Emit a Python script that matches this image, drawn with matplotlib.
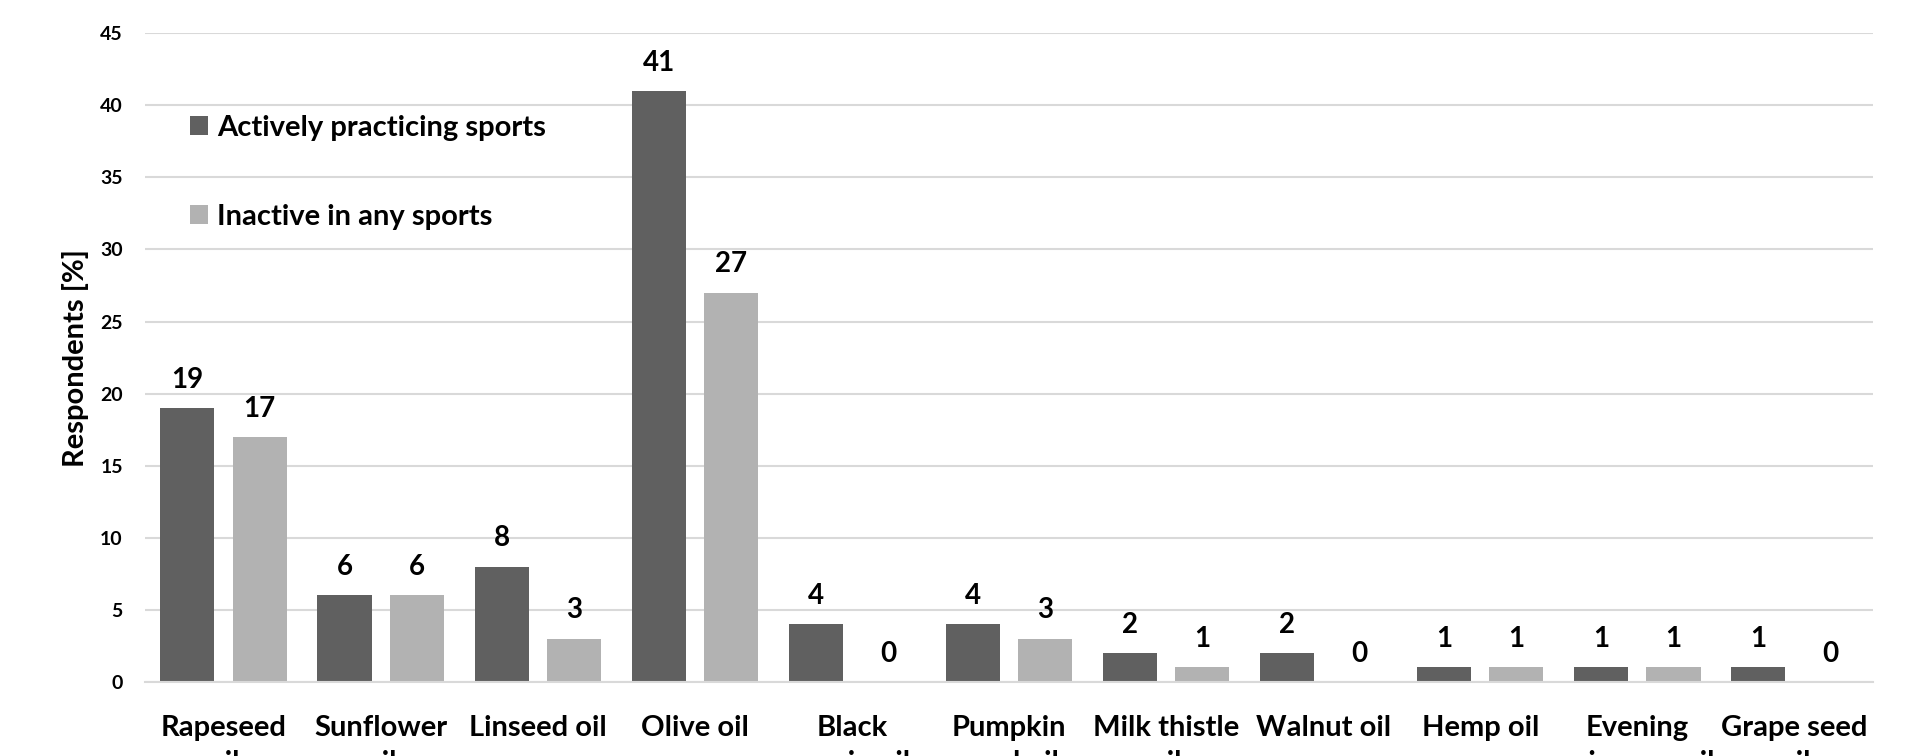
import matplotlib
matplotlib.use("Agg")
import matplotlib.pyplot as plt
import numpy as np
from matplotlib.patches import Patch

categories = ["Rapeseed\noil", "Sunflower\noil", "Linseed oil", "Olive oil",
              "Black\ncumin oil", "Pumpkin\nseed oil", "Milk thistle\noil",
              "Walnut oil", "Hemp oil", "Evening\nprimrose oil", "Grape seed\noil"]
active = [19, 6, 8, 41, 4, 4, 2, 2, 1, 1, 1]
inactive = [17, 6, 3, 27, 0, 3, 1, 0, 1, 1, 0]
series_names = ["Actively practicing sports", "Inactive in any sports"]
yticks = [0, 5, 10, 15, 20, 25, 30, 35, 40, 45]

DARK = "#606060"
LIGHT = "#b2b2b2"
GRID = "#d9d9d9"
FONT = ["Lato", "DejaVu Sans"]
WEIGHT = "bold"
plt.rcParams["font.family"] = FONT

fig = plt.figure(figsize=(19.23, 7.56), dpi=100)
ax = fig.add_axes([0.0754, 0.098, 0.8986, 0.858])

x = np.arange(len(categories))
w = 0.344
off = 0.23
b1 = ax.bar(x - off, active, width=w, color=DARK, zorder=3)
b2 = ax.bar(x + off, inactive, width=w, color=LIGHT, zorder=3)

for bars, vals in ((b1, active), (b2, inactive)):
    for rect, v in zip(bars, vals):
        ax.annotate(f"{v}", (rect.get_x() + rect.get_width() / 2, v),
                    xytext=(0, 11), textcoords="offset points",
                    ha="center", va="bottom", fontsize=20, fontweight=WEIGHT)

ax.set_xlim(-0.5, len(categories) - 0.5)
ax.set_ylim(0, 45)
ax.set_yticks(yticks)
ax.set_yticklabels([str(t) for t in yticks], fontsize=14, fontweight=WEIGHT)
ax.set_xticks(x)
ax.set_xticklabels(categories, fontsize=21, fontweight=WEIGHT, linespacing=1.4)
ax.tick_params(axis="both", length=0)
ax.tick_params(axis="y", pad=16)
ax.tick_params(axis="x", pad=24)
ax.yaxis.grid(True, color=GRID, linewidth=1.5, zorder=0)
for s in ("top", "right", "left"):
    ax.spines[s].set_visible(False)
ax.spines["bottom"].set_color(GRID)
ax.spines["bottom"].set_linewidth(1.5)
ax.spines["bottom"].set_zorder(4)

ax.set_ylabel("Respondents [%]", fontsize=21, fontweight=WEIGHT, labelpad=8)

handles = [Patch(facecolor=DARK), Patch(facecolor=LIGHT)]
leg = ax.legend(handles, series_names, loc="upper left",
                bbox_to_anchor=(0.026, 0.874), frameon=False,
                prop={"size": 21, "weight": WEIGHT},
                handlelength=0.62, handleheight=0.62, handletextpad=0.3,
                labelspacing=2.15, borderpad=0, borderaxespad=0)

fig.savefig("out.png", dpi=100)
